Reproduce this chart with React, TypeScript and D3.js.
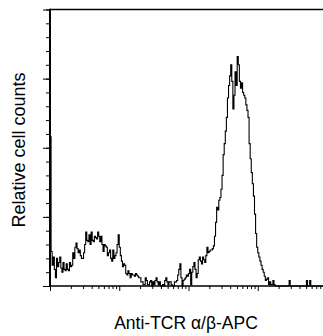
import React, { useEffect, useRef } from 'react';
import * as d3 from 'd3';

const width = 323;
const height = 336;
const margin = { top: 9.5, left: 50, bottom: 286 };

// counts per channel, 64 channels per decade, starting at 10^0
const lowCounts = [
  108, 25, 15, 21, 12, 6, 20, 14, 17, 21,
  13, 10, 17, 12, 11, 16, 12, 11, 17, 14,
  15, 24, 20, 28, 31, 27, 24, 26, 22, 20,
  20, 24, 30, 39, 33, 32, 37, 30, 39, 33,
  32, 36, 35, 34, 39, 36, 32, 36, 30, 25,
  30, 29, 28, 22, 24, 26, 20, 18, 26, 20,
  22, 24, 30, 37, 28, 22, 18, 14, 16, 15,
  9, 8, 11, 9, 6, 9, 8, 8, 7, 9,
  8, 7, 6, 6, 3, 3, 1, 1, 6, 4,
  1, 1, 3, 4, 0, 3, 1, 4, 6, 3,
  1, 3, 0, 0, 1, 0, 4, 6, 3, 1,
  3, 3, 1, 0, 0, 3, 3, 4, 8, 12,
];
const highCounts = [
  16, 6, 0, 4, 5, 6, 8, 7, 9, 12,
  1, 10, 14, 17, 12, 6, 9, 19, 21, 18,
  16, 21, 19, 17, 22, 28, 24, 25, 26, 26,
  27, 29, 36, 46, 57, 55, 62, 64, 70, 80,
  95, 103, 112, 122, 136, 145, 152, 160, 148, 128,
  138, 155, 145, 166, 160, 148, 143, 147, 140, 138,
  136, 131, 127, 122, 103, 92, 82, 74, 65, 52,
  38, 28, 24, 21, 18, 15, 12, 10, 7, 4,
  5, 6, 1, 3, 1, 1, 4, 1, 0, 0,
  0, 0, 0, 0, 0, 0, 0, 0, 0, 0,
  0, 4, 0, 0, 0, 0, 0, 0, 0, 0,
  0, 0, 0, 0, 0, 0, 0, 4, 0, 0,
  4, 0, 0, 0, 0, 0, 0, 0, 0, 0,
  0, 0, 0,
];
const channelsPerDecade = 64;

const xMajorTicks = [1, 10, 100, 1000, 10000];
const yMajorTicks = [0, 50, 100, 150, 200];
const yMinorTicks = d3.range(0, 201, 10);
const xMinorTicks = xMajorTicks.slice(0, 4).flatMap(d => [2, 3, 4, 5, 6, 7, 8, 9].map(m => m * d));

const xLabel = 'Anti-TCR \u03b1/\u03b2-APC';
const yLabel = 'Relative cell counts';

const App = () => {
  const svgRef = useRef(null);

  useEffect(() => {
    document.body.style.margin = '0';
    const svg = d3.select(svgRef.current);
    svg.selectAll('*').remove();

    const counts = lowCounts.concat(highCounts);
    const bins = counts.map((c, i) => ({ x: Math.pow(10, i / channelsPerDecade), c }));
    bins.push({ x: Math.pow(10, counts.length / channelsPerDecade), c: counts[counts.length - 1] });

    const xScale = d3.scaleLog().domain([1, 10000]).range([margin.left, margin.left + 4 * 69.25]);
    const yScale = d3.scaleLinear().domain([0, 200]).range([margin.bottom, margin.top]);

    const tickStyle = g => {
      g.selectAll('.tick line').attr('stroke', '#000').attr('stroke-width', 1);
      g.select('.domain').remove();
    };

    // y ticks
    svg.append('g')
      .attr('transform', `translate(${margin.left},0)`)
      .call(d3.axisLeft(yScale).tickValues(yMinorTicks).tickSize(4).tickFormat(() => ''))
      .call(tickStyle);
    svg.append('g')
      .attr('transform', `translate(${margin.left},0)`)
      .call(d3.axisLeft(yScale).tickValues(yMajorTicks).tickSize(7).tickFormat(() => ''))
      .call(tickStyle);

    // x ticks
    svg.append('g')
      .attr('transform', `translate(0,${margin.bottom})`)
      .call(d3.axisBottom(xScale).tickValues(xMinorTicks).tickSize(3).tickFormat(() => ''))
      .call(tickStyle);
    svg.append('g')
      .attr('transform', `translate(0,${margin.bottom})`)
      .call(d3.axisBottom(xScale).tickValues(xMajorTicks).tickSize(5).tickFormat(() => ''))
      .call(tickStyle);

    // frame: top edge, bottom axis, left axis
    const yTop = yScale(200);
    const yBase = yScale(0);
    svg.append('rect')
      .attr('x', margin.left).attr('y', yTop - 0.75)
      .attr('width', width - margin.left).attr('height', 1.5)
      .attr('fill', '#000');
    svg.append('rect')
      .attr('x', margin.left).attr('y', yBase - 0.75)
      .attr('width', width - margin.left).attr('height', 1.5)
      .attr('fill', '#000');
    svg.append('rect')
      .attr('x', margin.left - 1).attr('y', yTop - 0.75)
      .attr('width', 2).attr('height', yBase - yTop + 0.75)
      .attr('fill', '#000');

    const line = d3.line()
      .x(d => xScale(d.x))
      .y(d => yScale(d.c))
      .curve(d3.curveStepAfter);

    svg.append('path')
      .datum(bins)
      .attr('fill', 'none')
      .attr('stroke', '#000')
      .attr('stroke-width', 1.1)
      .attr('d', line);

    svg.append('text')
      .attr('x', 186)
      .attr('y', 329)
      .attr('text-anchor', 'middle')
      .attr('font-family', 'Liberation Sans, Arial, sans-serif')
      .attr('font-size', 17.5)
      .attr('fill', '#000')
      .text(xLabel);

    svg.append('text')
      .attr('transform', 'rotate(-90)')
      .attr('x', -150)
      .attr('y', 25)
      .attr('text-anchor', 'middle')
      .attr('font-family', 'Liberation Sans, Arial, sans-serif')
      .attr('font-size', 18)
      .attr('fill', '#000')
      .text(yLabel);
  }, []);

  return <svg ref={svgRef} width={width} height={height} style={{ display: 'block' }}></svg>;
};

export default App;
